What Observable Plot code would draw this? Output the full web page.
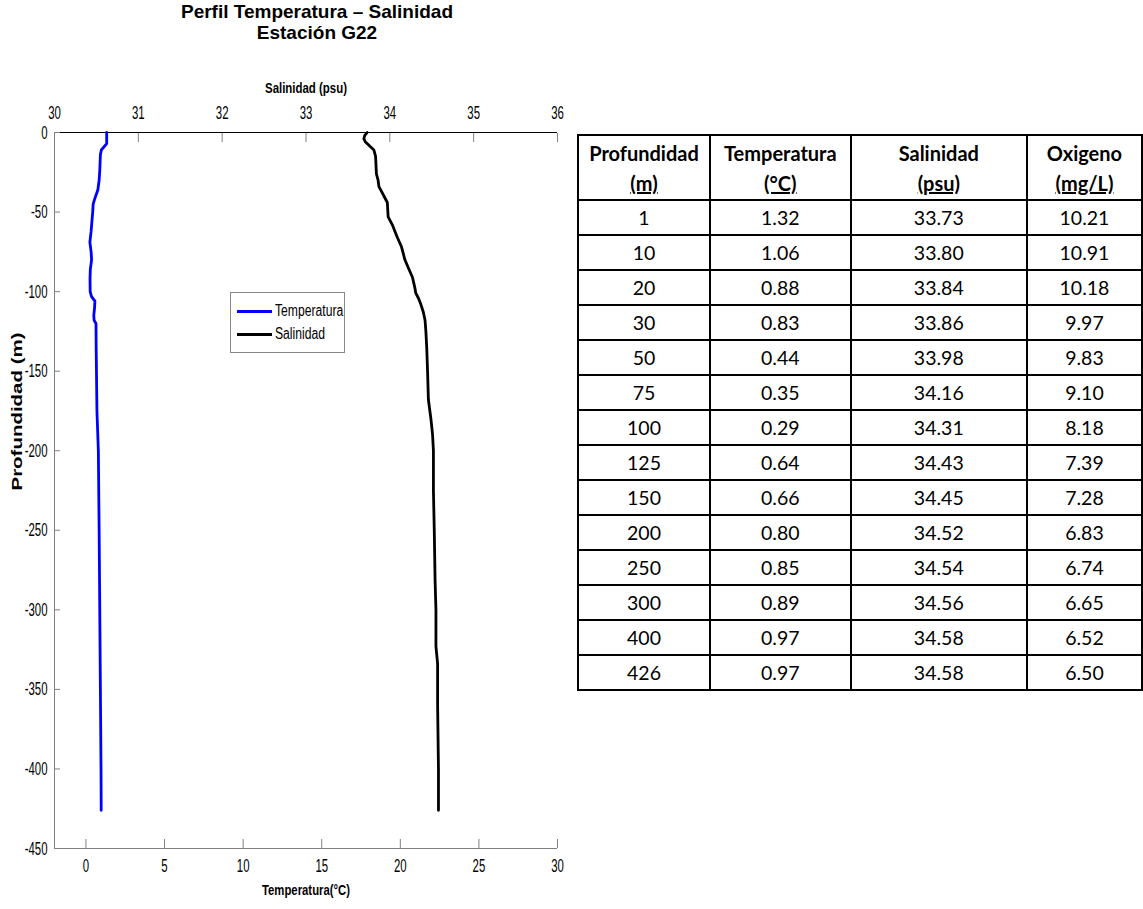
<!DOCTYPE html>
<html>
<head>
<meta charset="utf-8">
<script src="https://cdn.jsdelivr.net/npm/d3@7"></script>
<script src="https://cdn.jsdelivr.net/npm/@observablehq/plot@0.6"></script>
<style>
  body { margin:0; background:#fff; width:1143px; height:909px; position:relative; overflow:hidden; font-family:"Liberation Sans", Arial, sans-serif; }
  #title { position:absolute; left:0; top:1px; width:634px; text-align:center; font-weight:bold; font-size:19px; line-height:21px; color:#000; }
  #chart { position:absolute; left:0; top:44px; }
  #legend { position:absolute; left:230px; top:292px; width:113px; height:59px; border:1px solid #888; background:#fff; }
  .lg { position:absolute; left:6px; height:20px; display:flex; align-items:center; }
  .lg i { display:inline-block; width:35px; height:3px; margin-right:3px; }
  .lg span { display:inline-block; font-size:16px; transform:scaleX(0.76); transform-origin:left center; white-space:nowrap; }
  #tbl { position:absolute; left:577px; top:134px; border-collapse:collapse; font-family:Lato, "Open Sans", sans-serif; font-size:19.5px; color:#000; }
  #tbl td, #tbl th { border:2px solid #000; text-align:center; padding:0; }
  #tbl th { font-weight:bold; font-size:20px; height:63px; line-height:30px; }
  #tbl th u { text-decoration:underline; }
  #tbl td { height:33px; }
</style>
</head>
<body>
<div id="title">Perfil Temperatura – Salinidad<br>Estación G22</div>
<div id="chart"></div>
<div id="legend">
  <div class="lg" style="top:8px"><i style="background:#0000ff"></i><span>Temperatura</span></div>
  <div class="lg" style="top:31px"><i style="background:#000"></i><span>Salinidad</span></div>
</div>
<table id="tbl"></table>
<script>
// ---- Continuous CTD profiles (depth in m, positive down) ----
const tempDepth = [0, 7, 11, 14, 24, 30, 36, 42, 45, 50, 56, 62, 69, 75, 80, 86, 92, 100, 103, 106, 110, 115, 118, 120, 135, 150, 175, 200, 250, 300, 350, 400, 426];
const tempValue = [1.32, 1.32, 0.98, 0.92, 0.88, 0.84, 0.76, 0.55, 0.46, 0.43, 0.38, 0.33, 0.25, 0.33, 0.36, 0.28, 0.26, 0.27, 0.35, 0.57, 0.55, 0.50, 0.52, 0.64, 0.65, 0.67, 0.70, 0.79, 0.84, 0.88, 0.92, 0.96, 0.97];

const salDepth = [0, 2, 4, 6, 8, 11, 15, 26, 30, 34, 38, 41, 44, 53, 58, 62, 66, 72, 76, 80, 85, 91, 98, 101, 104, 108, 113, 118, 125, 135, 150, 168, 180, 190, 200, 225, 250, 282, 300, 323, 334, 360, 400, 426];
const salValue = [33.73, 33.70, 33.69, 33.71, 33.75, 33.81, 33.83, 33.84, 33.86, 33.87, 33.91, 33.94, 33.97, 33.98, 34.03, 34.06, 34.09, 34.14, 34.16, 34.18, 34.22, 34.27, 34.30, 34.31, 34.34, 34.37, 34.40, 34.42, 34.43, 34.44, 34.45, 34.46, 34.49, 34.51, 34.52, 34.52, 34.53, 34.54, 34.55, 34.55, 34.57, 34.57, 34.58, 34.58];

// ---- Axes ----
const tempDomain = [-2, 30];
const salDomain = [30, 36];
const depthDomain = [-450, 0];
const tempTicks = [0, 5, 10, 15, 20, 25, 30];
const salTicks = [30, 31, 32, 33, 34, 35, 36];
const depthTicks = [-450, -400, -350, -300, -250, -200, -150, -100, -50, 0];

// ---- Table ----
const tableHeader = [["Profundidad", "(m)"], ["Temperatura", "(°C)"], ["Salinidad", "(psu)"], ["Oxigeno", "(mg/L)"]];
const tblDepth = [1, 10, 20, 30, 50, 75, 100, 125, 150, 200, 250, 300, 400, 426];
const tblTemp = [1.32, 1.06, 0.88, 0.83, 0.44, 0.35, 0.29, 0.64, 0.66, 0.80, 0.85, 0.89, 0.97, 0.97];
const tblSal = [33.73, 33.80, 33.84, 33.86, 33.98, 34.16, 34.31, 34.43, 34.45, 34.52, 34.54, 34.56, 34.58, 34.58];
const tblOxy = [10.21, 10.91, 10.18, 9.97, 9.83, 9.10, 8.18, 7.39, 7.28, 6.83, 6.74, 6.65, 6.52, 6.50];

const tempData = tempDepth.map((d, i) => ({depth: d, temp: tempValue[i]}));
const salData = salDepth.map((d, i) => ({depth: d, sal: salValue[i]}));

// salinity shares the plotting scale with temperature (twin axis)
const k = (tempDomain[1] - tempDomain[0]) / (salDomain[1] - salDomain[0]);
const salToTemp = s => tempDomain[0] + (s - salDomain[0]) * k;
const tempToSal = t => salDomain[0] + (t - tempDomain[0]) / k;

const plot = Plot.plot({
  width: 570,
  height: 865,
  marginTop: 88,
  marginBottom: 61,
  marginLeft: 54,
  marginRight: 13,
  style: {fontFamily: "'Liberation Sans', Arial, sans-serif", fontSize: "19px", color: "#000", background: "#fff", overflow: "visible"},
  x: {domain: tempDomain},
  y: {domain: depthDomain},
  marks: [
    Plot.ruleY([depthDomain[0]], {stroke: "#808080"}),
    Plot.ruleX([tempDomain[0]], {stroke: "#808080"}),
    Plot.ruleY([depthDomain[1]], {stroke: "#000"}),
    Plot.axisX(tempTicks, {anchor: "bottom", tickSize: -9, tickPadding: 19, stroke: "#808080", label: null, tickFormat: d => String(d)}),
    Plot.axisX(salTicks.map(salToTemp), {anchor: "top", tickSize: -9, tickPadding: 23, stroke: "#808080", label: null, tickFormat: d => String(Math.round(tempToSal(d)))}),
    Plot.axisY(depthTicks, {anchor: "left", tickSize: -6, tickPadding: 13, stroke: "#808080", label: null, tickFormat: d => String(d)}),
    Plot.line(tempData, {x: "temp", y: d => -d.depth, stroke: "#0000ff", strokeWidth: 2.8}),
    Plot.line(salData, {x: d => salToTemp(d.sal), y: d => -d.depth, stroke: "#000", strokeWidth: 2.8}),
    Plot.text(["Salinidad (psu)"], {frameAnchor: "top", dy: -50, text: d => d, fontWeight: "bold", fontSize: 15}),
    Plot.text(["Temperatura(°C)"], {frameAnchor: "bottom", dy: 46, text: d => d, fontWeight: "bold", fontSize: 15}),
    Plot.text(["Profundidad (m)"], {frameAnchor: "left", dx: -37, rotate: -90, text: d => d, fontWeight: "bold", fontSize: 14})
  ]
});
document.getElementById("chart").appendChild(plot);

// condensed MATLAB-like lettering
plot.querySelectorAll("text").forEach(t => {
  const s = t.textContent;
  const g = t.closest("g");
  const aria = g ? (g.getAttribute("aria-label") || "") : "";
  const w = t.getComputedTextLength();
  let target = null;
  if (aria.includes("tick label")) target = w * 0.6;
  else if (s === "Salinidad (psu)") target = 82;
  else if (s === "Temperatura(°C)") target = 88;
  else if (s === "Profundidad (m)") target = 158;
  if (target) { t.setAttribute("textLength", target); t.setAttribute("lengthAdjust", "spacingAndGlyphs"); }
});

// table
const tbl = d3.select("#tbl");
const colW = [131, 140, 179, 115];
tbl.append("tr").selectAll("th").data(tableHeader).join("th")
  .style("width", (d, i) => colW[i] + "px")
  .html(d => `${d[0]}<br><u>${d[1]}</u>`);
tblDepth.forEach((d, i) => {
  tbl.append("tr").selectAll("td")
    .data([String(d), tblTemp[i].toFixed(2), tblSal[i].toFixed(2), tblOxy[i].toFixed(2)])
    .join("td").text(v => v);
});
</script>
</body>
</html>
